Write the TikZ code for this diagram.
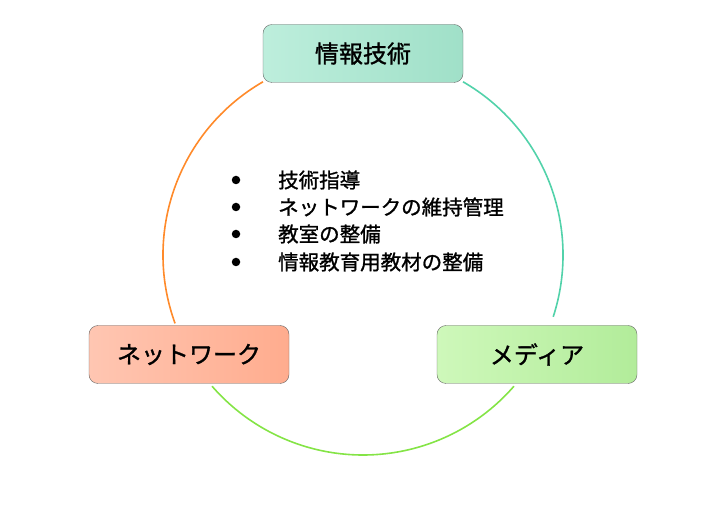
\documentclass[tikz,border=0pt]{standalone}
\usepackage{fontspec}
\setmainfont{Noto Sans CJK JP}[FakeBold=1.2]
\definecolor{topfillA}{HTML}{BDEEDC}
\definecolor{topfillB}{HTML}{A0E0C8}
\definecolor{netfillA}{HTML}{FFC6B2}
\definecolor{netfillB}{HTML}{FFAC8E}
\definecolor{medfillA}{HTML}{CEF8BA}
\definecolor{medfillB}{HTML}{B2EC9A}
\definecolor{arcorange}{HTML}{FF8A2A}
\definecolor{arcteal}{HTML}{52D2AA}
\definecolor{arcgreen}{HTML}{84E446}
\begin{document}
\begin{tikzpicture}[x=1pt,y=1pt]
	% styles
	\tikzstyle{box} = [draw=black!60,rounded corners=9pt,minimum width=200pt,minimum height=58pt,
		font=\fontsize{24}{28}\selectfont,inner sep=0pt]
	\tikzstyle{ring} = [line width=1.6pt]
	\tikzstyle{item} = [anchor=west,font=\fontsize{20.5}{24}\selectfont,inner sep=0pt]
	\tikzstyle{dot} = [circle,fill=black,inner sep=0pt,minimum size=8.5pt]

	% bounding box
	\useasboundingbox (0,0) rectangle (727,508);

	% ring segments
	\coordinate (c) at (363,253);
	\draw[ring,arcorange] ([shift={(120:200pt)}]c) arc[start angle=120,end angle=200,radius=200pt];
	\draw[ring,arcteal] ([shift={(60:200pt)}]c) arc[start angle=60,end angle=-18,radius=200pt];
	\draw[ring,arcgreen] ([shift={(221:200pt)}]c) arc[start angle=221,end angle=319,radius=200pt];

	% boxes
	\node[box,left color=topfillA,right color=topfillB] (joho) at (363,454.5) {情報技術};
	\node[box,left color=netfillA,right color=netfillB] (net) at (189,153.5) {ネットワーク};
	\node[box,left color=medfillA,right color=medfillB] (media) at (537,153.5) {メディア};

	% task list
	\foreach \i/\y/\t in {1/328/技術指導,2/301/ネットワークの維持管理,3/274/教室の整備,4/246/情報教育用教材の整備}
	{
		\node[item] (task\i) at (278,\y) {\t};
		\node[dot] (dot\i) at (236,\y) {};
	}
\end{tikzpicture}
\end{document}
